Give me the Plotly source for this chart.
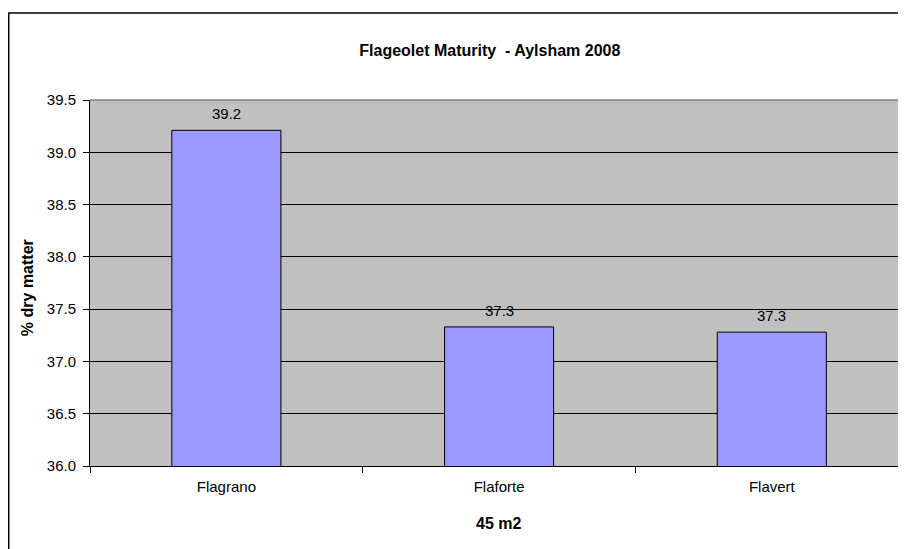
import plotly.graph_objects as go

# data
varieties = ["Flagrano", "Flaforte", "Flavert"]
dry_matter = [39.21, 37.33, 37.28]
y_ticks = [36.0, 36.5, 37.0, 37.5, 38.0, 38.5, 39.0, 39.5]

FONT = "Liberation Sans, Arial, sans-serif"

# value labels above the bars
value_labels = [
    dict(x=v, y=d, text=f"{d:.1f}", xref="x", yref="y",
         xanchor="center", yanchor="bottom", yshift=6, showarrow=False,
         font=dict(family=FONT, size=15, color="black"))
    for v, d in zip(varieties, dry_matter)
]

fig = go.Figure(
    data=go.Bar(
        x=varieties,
        y=dry_matter,
        marker=dict(color="#9999FF", line=dict(color="black", width=1)),
        hoverinfo="x+y",
    ),
    layout=go.Layout(
        # page body has an 8px margin, margins compensate for it
        width=898,
        height=541,
        margin=dict(l=82, r=0, t=92, b=83),
        paper_bgcolor="white",
        plot_bgcolor="#C0C0C0",
        bargap=0.6,
        showlegend=False,
        font=dict(family=FONT, size=15, color="black"),
        title={
            'text': "<b>Flageolet Maturity \u00a0- Aylsham 2008</b>",
            'x': 0.490,
            'xref': 'paper',
            'xanchor': 'center',
            'y': 1 - 42 / 541,
            'yanchor': 'middle',
            'font': dict(family=FONT, size=16, color="black"),
        },
        xaxis=dict(
            range=[-0.5, 2.492],
            showline=True,
            linecolor="black",
            linewidth=1,
            ticks="outside",
            tickson="boundaries",
            ticklen=6,
            tickcolor="black",
            showgrid=False,
            tickfont=dict(size=15),
            ticklabelstandoff=7,
            automargin=False,
        ),
        yaxis=dict(
            range=[36, 39.5],
            tickvals=y_ticks,
            tickformat=".1f",
            showline=True,
            linecolor="black",
            linewidth=1,
            ticks="outside",
            ticklen=6,
            tickcolor="black",
            showgrid=True,
            gridcolor="black",
            gridwidth=1,
            zeroline=False,
            tickfont=dict(size=15),
            ticklabelstandoff=4,
            automargin=False,
        ),
        shapes=[
            # outer chart border (cropped at right and bottom)
            dict(type="rect", xref="paper", yref="paper",
                 x0=-0.0996, x1=1.2, y0=-0.6, y1=1.2377,
                 line=dict(color="black", width=1.5), layer="below"),
            # plot area border on top
            dict(type="line", xref="paper", yref="paper",
                 x0=0, x1=1.05, y0=1, y1=1,
                 line=dict(color="#808080", width=1.5)),
        ],
        annotations=value_labels + [
            dict(text="<b>% dry matter</b>", textangle=-90,
                 xref="paper", yref="paper", x=-0.0772, y=0.486,
                 xanchor="center", yanchor="middle", showarrow=False,
                 font=dict(family=FONT, size=16)),
            dict(text="<b>45 m2</b>",
                 xref="paper", yref="paper", x=0.500, y=-0.158,
                 xanchor="center", yanchor="middle", showarrow=False,
                 font=dict(family=FONT, size=16)),
        ],
    ),
)

fig.write_html("out.html")
